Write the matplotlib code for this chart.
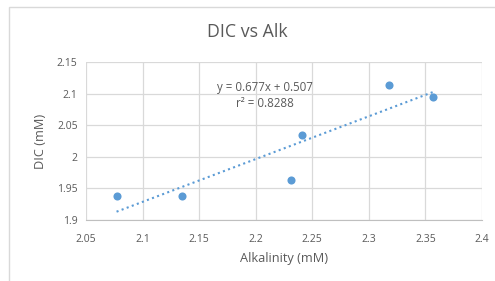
import matplotlib
matplotlib.use("Agg")
import matplotlib.pyplot as plt
from matplotlib.patches import Rectangle

# data
alk = [2.077, 2.135, 2.231, 2.241, 2.318, 2.357]
dic = [1.938, 1.938, 1.963, 2.035, 2.113, 2.094]
slope, intercept = 0.677, 0.507
xticks = [2.05, 2.1, 2.15, 2.2, 2.25, 2.3, 2.35, 2.4]
yticks = [1.9, 1.95, 2.0, 2.05, 2.1, 2.15]
xlabels = ["2.05", "2.1", "2.15", "2.2", "2.25", "2.3", "2.35", "2.4"]
ylabels = ["1.9", "1.95", "2", "2.05", "2.1", "2.15"]

plt.rcParams['font.family'] = ['Open Sans', 'DejaVu Sans']
txt = '#595959'
blue = '#5b9bd5'

fig = plt.figure(figsize=(4.95, 2.81), dpi=100)
fig.patches.append(Rectangle((9/495, -0.1), 1.0, 1 - 7/281 + 0.1, transform=fig.transFigure,
                             fill=False, edgecolor='#d9d9d9', lw=1.0))
ax = fig.add_axes([86/495, 1 - 220/281, 396/495, 158/281])

ax.scatter(alk, dic, s=34, color=blue, zorder=3, linewidths=0)
tx = [min(alk), max(alk)]
ty = [slope * v + intercept for v in tx]
ax.plot(tx, ty, ls=(0, (1, 1.6)), color=blue, lw=1.5, zorder=2)

ax.set_xlim(2.05, 2.4)
ax.set_ylim(1.9, 2.15)
ax.set_xticks(xticks)
ax.set_xticklabels(xlabels)
ax.set_yticks(yticks)
ax.set_yticklabels(ylabels)
ax.grid(True, color='#d9d9d9', lw=0.9)
ax.set_axisbelow(True)
for s in ['top', 'right', 'left']:
    ax.spines[s].set_visible(False)
ax.spines['bottom'].set_color('#bfbfbf')
ax.tick_params(axis='both', length=0, labelsize=7.5, colors=txt, pad=6)
ax.tick_params(axis='x', pad=10)

ax.set_xlabel('Alkalinity (mM)', fontsize=9.2, color=txt, labelpad=5)
ax.set_ylabel('DIC (mM)', fontsize=9.2, color=txt, labelpad=7)
fig.text(0.5, 1 - 32/281, 'DIC vs Alk', ha='center', va='center', fontsize=12.8, color=txt)

ax.text(2.208, 2.097, 'y = 0.677x + 0.507\nr² = 0.8288', ha='center', va='center',
        fontsize=8.3, color=txt, linespacing=1.35)

fig.savefig('out.png', dpi=100)
